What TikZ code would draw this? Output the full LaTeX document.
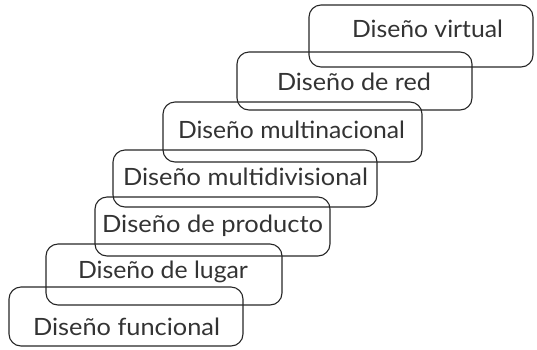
\documentclass[tikz,border=0pt]{standalone}
\usepackage{fontspec}
\setmainfont{Lato}
\usepackage{graphicx}
\begin{document}
\begin{tikzpicture}[x=1pt,y=-1pt,
  stair/.style={draw=black!85,line width=1.1pt,rounded corners=12pt},
  lbl/.style={anchor=base west,inner sep=0pt,outer sep=0pt,text=black!80,font=\fontsize{23.8}{26}\selectfont}]
\useasboundingbox (0,0) rectangle (537,349);
\draw[stair] (9,287) rectangle (243,346);
\draw[stair] (46,244) rectangle (282,305);
\draw[stair] (95,197) rectangle (330,256);
\draw[stair] (113,150) rectangle (377,207);
\draw[stair] (163,102) rectangle (422,162);
\draw[stair] (237,52) rectangle (472,110);
\draw[stair] (309,5) rectangle (533,67);
\node[lbl] (funcional) at (33,335) {\resizebox{187pt}{\height}{Diseño funcional}};
\node[lbl] (lugar) at (78,278) {\resizebox{170pt}{\height}{Diseño de lugar}};
\node[lbl] (producto) at (102,232) {\resizebox{221pt}{\height}{Diseño de producto}};
\node[lbl] (multidiv) at (123,185) {\resizebox{245pt}{\height}{Diseño multidivisional}};
\node[lbl] (multinac) at (178,138) {\resizebox{227pt}{\height}{Diseño multinacional}};
\node[lbl] (red) at (277,90) {\resizebox{154pt}{\height}{Diseño de red}};
\node[lbl] (virtual) at (352,37) {\resizebox{151pt}{\height}{Diseño virtual}};
\end{tikzpicture}
\end{document}
